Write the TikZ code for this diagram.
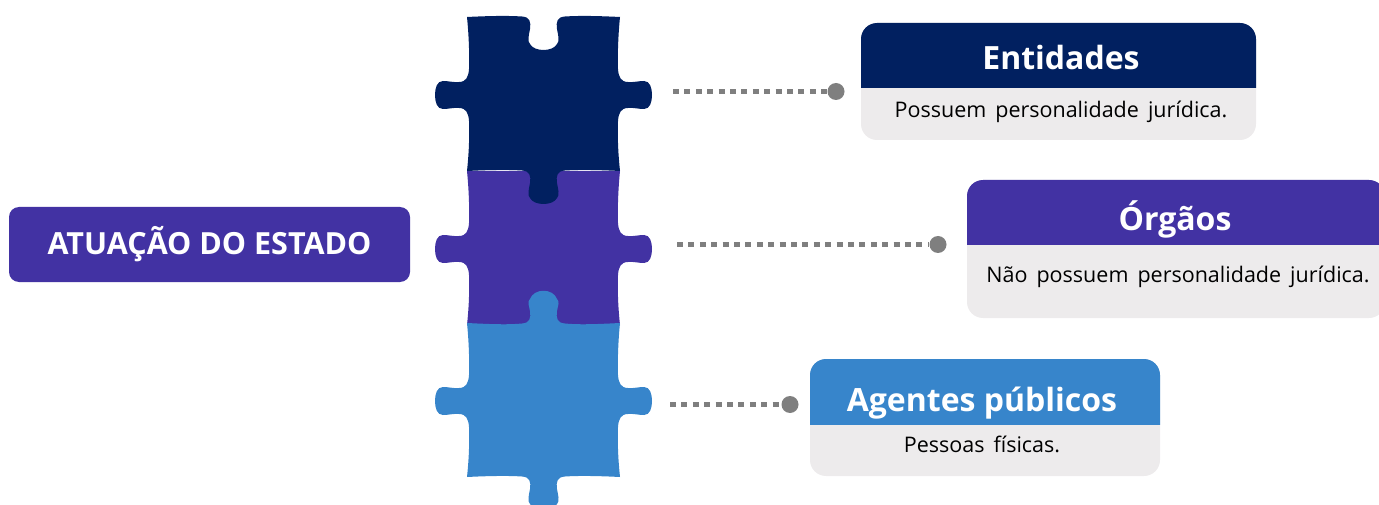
\documentclass[tikz,border=0pt]{standalone}
\usepackage{fontspec}
\setmainfont{Open Sans}
\definecolor{navy}{HTML}{012060}
\definecolor{violet}{HTML}{4232A3}
\definecolor{skyb}{HTML}{3785CB}
\definecolor{cardgray}{HTML}{EDEBEC}
\definecolor{dotgray}{HTML}{7F7F7F}
\newcommand{\rightside}{.. controls (618,20) and (617.5,40) .. (618,52) .. controls (618.5,60) and (621,65) .. (628,65) .. controls (634,65.5) and (638,64) .. (644,64) .. controls (650,64) and (652,71) .. (652,78) .. controls (652,85) and (650,92) .. (644,92) .. controls (638,92) and (634,90.5) .. (628,91) .. controls (621,91) and (618.5,96) .. (618,104) .. controls (617.5,120) and (618,135) .. (620,154)}
\newcommand{\leftside}{.. controls (469,135) and (469.5,120) .. (469,104) .. controls (468.5,96) and (466,91) .. (459,91) .. controls (453,90.5) and (449,92) .. (443,92) .. controls (437,92) and (435,85) .. (435,78) .. controls (435,71) and (437,64) .. (443,64) .. controls (449,64) and (453,65.5) .. (459,65) .. controls (466,65) and (468.5,60) .. (469,52) .. controls (469.5,40) and (469,20) .. (467,0)}
\newcommand{\topnotch}{.. controls (487,-1) and (507,-1.5) .. (522,-0.5) .. controls (530,0) and (531,5) .. (530,12) .. controls (529,18) and (527,24) .. (530,27) .. controls (534,35) and (553,35) .. (557,27) .. controls (560,24) and (558,18) .. (557,12) .. controls (556,5) and (557,0) .. (565,-0.5) .. controls (580,-1.5) and (600,-1) .. (620,0)}
\newcommand{\toptab}{.. controls (487,1) and (507,2) .. (522,0.5) .. controls (530,0) and (531,-5) .. (530,-12) .. controls (529,-18) and (527,-21) .. (530,-24) .. controls (534,-35) and (553,-35) .. (557,-24) .. controls (560,-21) and (558,-18) .. (557,-12) .. controls (556,-5) and (557,0) .. (565,0.5) .. controls (580,2) and (600,1) .. (620,0)}
\newcommand{\bottomtab}{.. controls (600,-1) and (580,-1.5) .. (565,-0.5) .. controls (557,0) and (556,5) .. (557,12) .. controls (558,18) and (560,24) .. (557,27) .. controls (553,35) and (534,35) .. (530,27) .. controls (527,24) and (529,18) .. (530,12) .. controls (531,5) and (530,0) .. (522,-0.5) .. controls (507,-1.5) and (487,-1) .. (467,0)}
\newcommand{\cardbox}[7]{% x1 y1 x2 ymid y2 colour radius
  \fill[cardgray,rounded corners=#7] (#1,#2) rectangle (#3,#5);
  \begin{scope}
    \clip (#1,#2) rectangle (#3,#4);
    \fill[#6,rounded corners=#7] (#1,#2) rectangle (#3,#5);
  \end{scope}
}
\tikzset{
  x=1pt,y=-1pt,
  titletext/.style={text=white,font=\fontsize{32}{36}\selectfont\bfseries,inner sep=0pt},
  bodytext/.style={text=black,font=\fontsize{21.5}{25}\selectfont,inner sep=0pt,execute at begin node={\spaceskip=0.42em\relax}},
  leader/.style={draw=dotgray,line width=5pt,dash pattern=on 6pt off 5.4pt},
  enddot/.style={circle,fill=dotgray,minimum size=17pt,inner sep=0pt},
}
\begin{document}
\begin{tikzpicture}
\useasboundingbox (0,0) rectangle (1379,505);
\begin{scope}
\clip (0,0) rectangle (1379,505);
% middle piece first
\fill[violet] (467,171) -- (620,171) [shift={(0,171)}] \rightside -- (467,154) \leftside -- cycle;
\fill[navy,shift={(0,17)}] (467,0) \topnotch \rightside [shift={(0,154)}] \bottomtab [shift={(0,-154)}] \leftside -- cycle;
\fill[skyb,shift={(0,323)}] (467,0) \toptab \rightside [shift={(0,154)}] \bottomtab [shift={(0,-154)}] \leftside -- cycle;
% cards
\cardbox{861}{23}{1256}{88}{140}{navy}{16pt}
\cardbox{967}{180}{1385}{245}{318}{violet}{16pt}
\cardbox{810}{359}{1160}{424}{476}{skyb}{16pt}
\end{scope}
% main label
\node[fill=violet,rounded corners=10pt,minimum width=401pt,minimum height=75pt,inner sep=0pt,text=white] (main) at (209.5,244.5) {\raisebox{-1.5pt}{\fontsize{30.5}{34}\selectfont\bfseries ATUAÇÃO DO ESTADO}};
\node[titletext] (t1) at (1061,57.5) {Entidades};
\node[bodytext] (b1) at (1061,112) {Possuem personalidade jurídica.};
\node[titletext] (t2) at (1175,219.5) {Órgãos};
\node[bodytext] (b2) at (1178,277) {Não possuem personalidade jurídica.};
\node[titletext] (t3) at (982,403) {Agentes públicos};
\node[bodytext] (b3) at (982,444) {Pessoas físicas.};
% connectors
\node[enddot] (d1) at (836,91.5) {};
\node[enddot] (d2) at (938,244.5) {};
\node[enddot] (d3) at (790,404.5) {};
\coordinate (s1) at (673,91.5);
\coordinate (s2) at (677,244.5);
\coordinate (s3) at (670,404.5);
\draw[leader] (s1) -- (d1);
\draw[leader] (s2) -- (d2);
\draw[leader] (s3) -- (d3);
\end{tikzpicture}
\end{document}
